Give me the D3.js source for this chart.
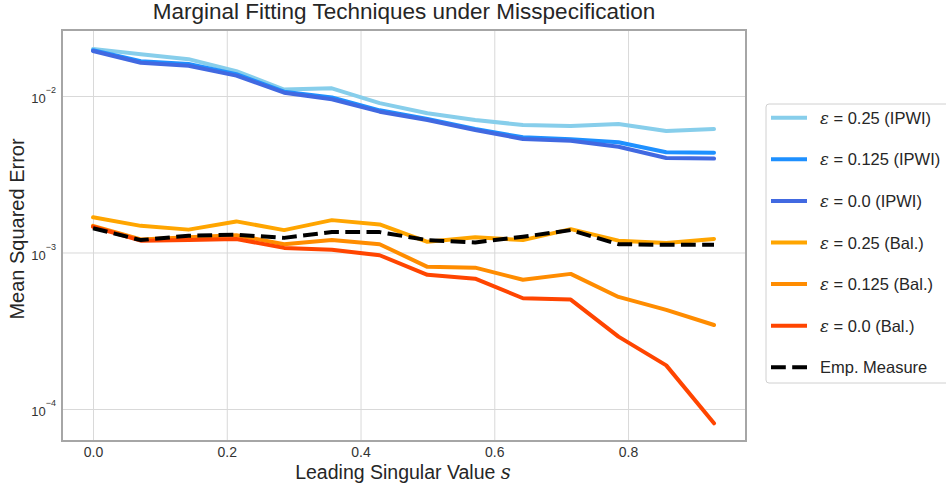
<!DOCTYPE html>
<html>
<head>
<script src="https://d3js.org/d3.v7.min.js"></script>
<style>
  body { margin: 0; background: #fff; }
  svg { font-family: "Liberation Sans", Arial, sans-serif; }
  .grid line { stroke: #d9d9d9; stroke-width: 1; }
  .grid .domain { display: none; }
  .tick text { fill: #333; }
</style>
</head>
<body>
<svg width="946" height="488"></svg>
<script>
// leading singular value s
var s = d3.range(14).map(function(i) { return i / 14; });

var ipwi025 = [0.0200, 0.0185, 0.0172, 0.0144, 0.0110, 0.0112, 0.0090, 0.00775, 0.00702, 0.00653, 0.00643, 0.00662, 0.00597, 0.00615];
var ipwi0125 = [0.0196, 0.0167, 0.0160, 0.0138, 0.01065, 0.0098, 0.0081, 0.00713, 0.00615, 0.00545, 0.00529, 0.00506, 0.00437, 0.00434];
var ipwi0 = [0.0194, 0.0163, 0.0156, 0.0135, 0.0105, 0.00953, 0.00794, 0.00702, 0.00606, 0.00531, 0.00518, 0.00474, 0.00402, 0.00398];
var bal025 = [0.00168, 0.00148, 0.00140, 0.00158, 0.00139, 0.00161, 0.00151, 0.00117, 0.00125, 0.00120, 0.00141, 0.00119, 0.00115, 0.00122];
var bal0125 = [0.00148, 0.00121, 0.00125, 0.00129, 0.00113, 0.00120, 0.00113, 0.00081, 0.00080, 0.00067, 0.00073, 0.00052, 0.00043, 0.000344];
var bal0 = [0.00146, 0.00119, 0.00120, 0.00122, 0.00107, 0.00104, 0.00096, 0.00072, 0.00068, 0.00051, 0.00050, 0.00029, 0.00019, 0.000081];
var empMeasure = [0.00143, 0.00120, 0.00128, 0.00130, 0.00124, 0.00135, 0.00135, 0.00120, 0.00116, 0.00126, 0.00139, 0.00113, 0.00112, 0.00112];

var seriesNames = ["0.25 (IPWI)", "0.125 (IPWI)", "0.0 (IPWI)", "0.25 (Bal.)", "0.125 (Bal.)", "0.0 (Bal.)", "Emp. Measure"];
var seriesValues = [ipwi025, ipwi0125, ipwi0, bal025, bal0125, bal0, empMeasure];
var colors = ["#87CEEB", "#1E90FF", "#4169E1", "#FFA500", "#FF8C00", "#FF4500", "#000000"];

var xTicks = [0, 0.2, 0.4, 0.6, 0.8];
var yTicks = [1e-4, 1e-3, 1e-2];

var svg = d3.select("svg");
var plot = {left: 62, right: 746, top: 30, bottom: 441};

var x = d3.scaleLinear().domain([-0.0464, 0.9764]).range([plot.left, plot.right]);
var y = d3.scaleLog().domain([Math.pow(10, -4.2045), Math.pow(10, -1.5783)]).range([plot.bottom, plot.top]);

// grid
svg.append("g")
  .attr("class", "grid")
  .attr("transform", "translate(0," + plot.bottom + ")")
  .call(d3.axisBottom(x).tickValues(xTicks).tickSize(-(plot.bottom - plot.top)).tickFormat(""));
svg.append("g")
  .attr("class", "grid")
  .attr("transform", "translate(" + plot.left + ",0)")
  .call(d3.axisLeft(y).tickValues(yTicks).tickSize(-(plot.right - plot.left)).tickFormat(""));

// lines
var line = d3.line()
  .x(function(d, i) { return x(s[i]); })
  .y(function(d) { return y(d); });

seriesValues.forEach(function(vals, k) {
  svg.append("path")
    .datum(vals)
    .attr("fill", "none")
    .attr("stroke", colors[k])
    .attr("stroke-width", 4)
    .attr("stroke-linejoin", "round")
    .attr("stroke-linecap", k == 6 ? "butt" : "round")
    .attr("stroke-dasharray", k == 6 ? "14.8,6.4" : null)
    .attr("d", line);
});

// frame
svg.append("rect")
  .attr("x", plot.left).attr("y", plot.top)
  .attr("width", plot.right - plot.left).attr("height", plot.bottom - plot.top)
  .attr("fill", "none").attr("stroke", "#a6a6a6").attr("stroke-width", 2);

// tick labels
var xAxis = svg.append("g")
  .attr("transform", "translate(0," + plot.bottom + ")")
  .call(d3.axisBottom(x).tickValues(xTicks).tickSize(0).tickPadding(6).tickFormat(d3.format(".1f")));
xAxis.select(".domain").remove();
xAxis.selectAll(".tick text").attr("font-size", "14px");

var yAxis = svg.append("g")
  .attr("transform", "translate(" + plot.left + ",0)")
  .call(d3.axisLeft(y).tickValues(yTicks).tickSize(0).tickPadding(6).tickFormat(""));
yAxis.select(".domain").remove();
yAxis.selectAll(".tick text").each(function(d) {
  var t = d3.select(this).attr("dy", null).attr("y", 6.7);
  t.append("tspan").attr("font-size", "13px").text("10");
  t.append("tspan").attr("dy", -10).attr("font-size", "9px").text("\u2212" + Math.round(-Math.log10(d)));
});

// title and axis labels
svg.append("text")
  .attr("x", 404).attr("y", 18.5)
  .attr("text-anchor", "middle")
  .attr("font-size", "22.5px").attr("fill", "#262626")
  .text("Marginal Fitting Techniques under Misspecification");

var xl = svg.append("text")
  .attr("x", 403).attr("y", 479)
  .attr("text-anchor", "middle")
  .attr("font-size", "19.5px").attr("fill", "#262626");
xl.append("tspan").text("Leading Singular Value ");
xl.append("tspan").attr("font-family", "DejaVu Serif").attr("font-style", "italic").text("s");

svg.append("text")
  .attr("transform", "translate(23.5,229) rotate(-90)")
  .attr("text-anchor", "middle")
  .attr("font-size", "20px").attr("fill", "#262626")
  .text("Mean Squared Error");

// legend
var legend = svg.append("g").attr("transform", "translate(766,104)");
legend.append("rect")
  .attr("x", 0).attr("y", 0).attr("width", 196).attr("height", 279)
  .attr("rx", 3)
  .attr("fill", "#fff").attr("stroke", "#d0d0d0").attr("stroke-width", 1);

seriesNames.forEach(function(name, k) {
  var ry = 13.7 + k * 41.6;
  legend.append("line")
    .attr("x1", 5).attr("x2", 41)
    .attr("y1", ry).attr("y2", ry)
    .attr("stroke", colors[k]).attr("stroke-width", 4)
    .attr("stroke-dasharray", k == 6 ? "14.8,6.4" : null);
  var t = legend.append("text")
    .attr("x", 54).attr("y", ry + 6)
    .attr("font-size", "16.5px").attr("fill", "#262626");
  if (k < 6) {
    t.append("tspan").attr("font-family", "DejaVu Serif").attr("font-style", "italic").text("\u03b5");
    t.append("tspan").text(" = " + name);
  } else {
    t.text(name);
  }
});
</script>
</body>
</html>
